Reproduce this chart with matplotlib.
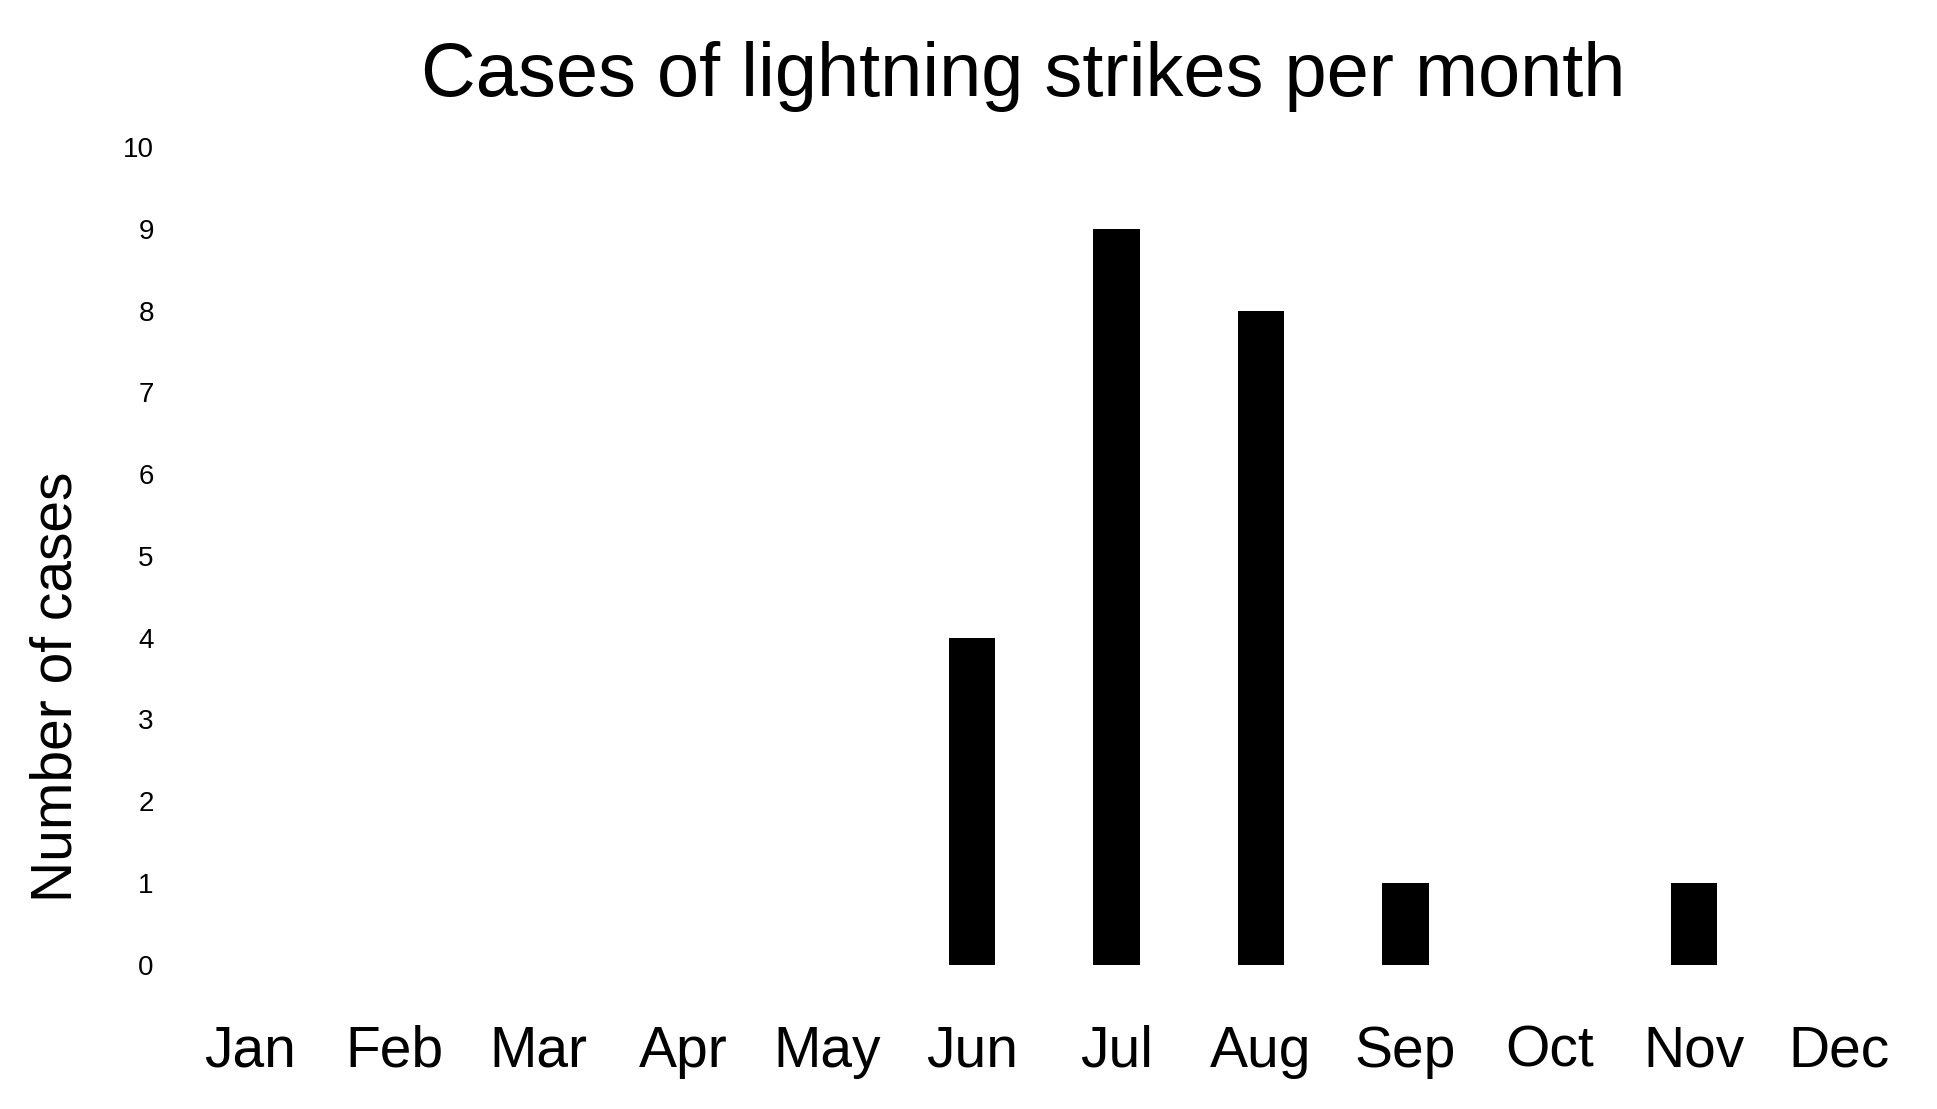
import numpy as np
import matplotlib.pyplot as plt

plt.rcParams['font.family'] = ['Liberation Sans', 'DejaVu Sans']

months = ['Jan', 'Feb', 'Mar', 'Apr', 'May', 'Jun', 'Jul', 'Aug', 'Sep', 'Oct', 'Nov', 'Dec']
cases = [0, 0, 0, 0, 0, 4, 9, 8, 1, 0, 1, 0]
yticks = list(range(0, 11))

fig = plt.figure(figsize=(19.37, 11.09), dpi=100)
ax = fig.add_axes([0.0916, 0.130, 0.895, 0.7374])

x = np.arange(len(months))
ax.bar(x, cases, width=0.32, color='black')

ax.set_xlim(-0.5, 11.5)
ax.set_ylim(0, 10)
ax.set_xticks(x)
ax.set_xticklabels(months, fontsize=41)
ax.set_yticks(yticks)
ax.set_yticklabels([str(t) for t in yticks], fontsize=20)
ax.tick_params(axis='x', length=0, pad=43)
ax.tick_params(axis='y', length=0, pad=17)
for s in ax.spines.values():
    s.set_visible(False)

fig.text(0.528, 1 - 96 / 1109, 'Cases of lightning strikes per month',
         fontsize=54.5, ha='center', va='baseline')
fig.text(0.029, 0.381, 'Number of cases', fontsize=41,
         rotation=90, ha='center', va='center')

fig.savefig('out.png', dpi=100)
